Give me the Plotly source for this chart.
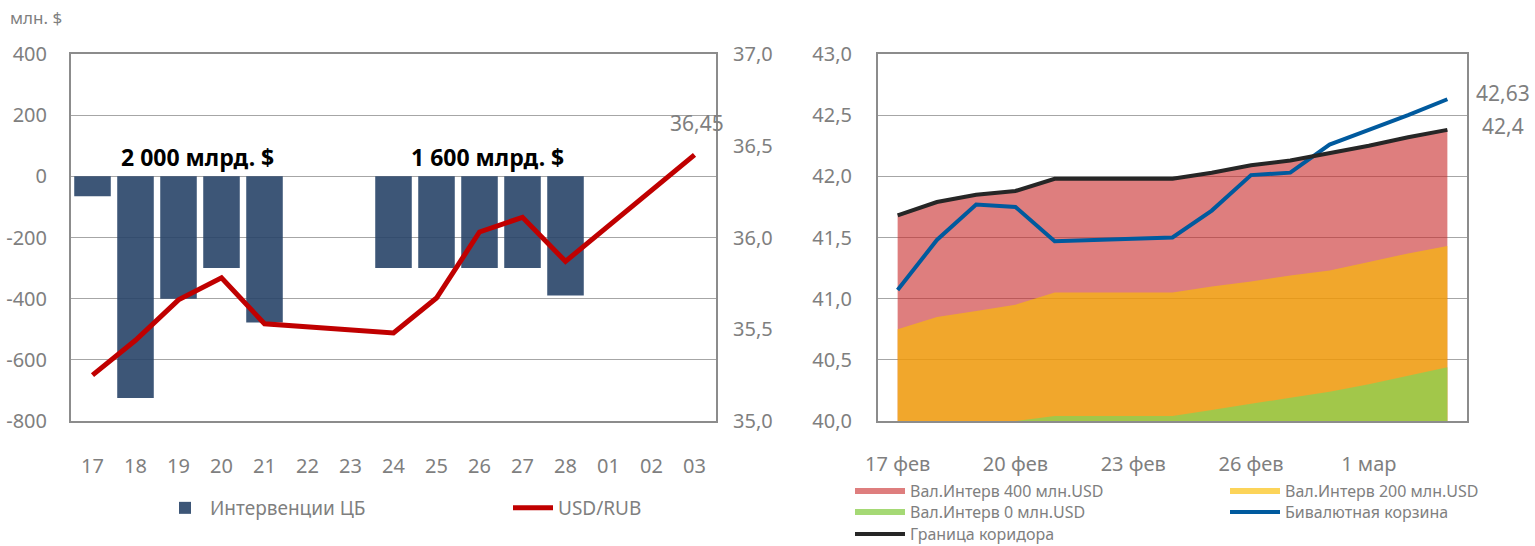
import plotly.graph_objects as go

# left chart: CBR interventions and USD/RUB
days = ['17', '18', '19', '20', '21', '22', '23', '24', '25', '26', '27', '28', '01', '02', '03']
interventions = [-65, -725, -400, -300, -478, None, None, -300, -300, -300, -300, -390, None, None, None]
usd_rub = [35.25, 35.44, 35.66, 35.78, 35.53, None, None, 35.48, 35.67, 36.03, 36.11, 35.87, None, None, 36.45]
left_ticks = [-800, -600, -400, -200, 0, 200, 400]
left_ticktext = ['-800', '-600', '-400', '-200', '0', '200', '400']

# right chart: bi-currency basket vs corridor
dates = ['2014-02-17', '2014-02-18', '2014-02-19', '2014-02-20', '2014-02-21', '2014-02-22',
         '2014-02-23', '2014-02-24', '2014-02-25', '2014-02-26', '2014-02-27', '2014-02-28',
         '2014-03-01', '2014-03-02', '2014-03-03']
level_400 = [41.68, 41.79, 41.85, 41.88, 41.98, 41.98, 41.98, 41.98, 42.03, 42.09, 42.13, 42.19, 42.25, 42.32, 42.38]
level_200 = [40.75, 40.85, 40.90, 40.95, 41.05, 41.05, 41.05, 41.05, 41.10, 41.14, 41.19, 41.23, 41.30, 41.37, 41.43]
level_0 = [40.0, 40.0, 40.0, 40.0, 40.04, 40.04, 40.04, 40.04, 40.09, 40.14, 40.19, 40.24, 40.30, 40.37, 40.44]
basket = [41.07, 41.48, 41.77, 41.75, 41.47, 41.48, 41.49, 41.50, 41.72, 42.01, 42.03, 42.26, 42.38, 42.50, 42.63]
corridor = [41.68, 41.79, 41.85, 41.88, 41.98, 41.98, 41.98, 41.98, 42.03, 42.09, 42.13, 42.19, 42.25, 42.32, 42.38]
date_ticks = ['2014-02-17', '2014-02-20', '2014-02-23', '2014-02-26', '2014-03-01']
date_ticktext = ['17 фев', '20 фев', '23 фев', '26 фев', '1 мар']

FONT = 'Noto Sans'
GREY = '#7F7F7F'
W, H = 1535, 546

def px(x):
    return x / W

def py(y):
    return 1 - y / H

fig = go.Figure()

fig.add_trace(go.Bar(x=days, y=interventions, name='Интервенции ЦБ',
                     marker=dict(color='rgba(40,68,104,0.9)', line=dict(width=0)),
                     xaxis='x', yaxis='y', legend='legend'))
fig.add_trace(go.Scatter(x=days, y=usd_rub, name='USD/RUB', mode='lines', connectgaps=True,
                         line=dict(color='#C00000', width=5),
                         xaxis='x', yaxis='y2', legend='legend'))

fig.add_trace(go.Scatter(x=dates, y=level_400, name='Вал.Интерв 400 млн.USD', mode='none',
                         fill='tozeroy', fillcolor='rgba(200,40,40,0.6)',
                         xaxis='x2', yaxis='y3', legend='legend2'))
fig.add_trace(go.Scatter(x=dates, y=level_200, name='Вал.Интерв 200 млн.USD', mode='none',
                         fill='tozeroy', fillcolor='rgba(251,189,0,0.65)',
                         xaxis='x2', yaxis='y3', legend='legend2'))
fig.add_trace(go.Scatter(x=dates, y=level_0, name='Вал.Интерв 0 млн.USD', mode='none',
                         fill='tozeroy', fillcolor='rgba(143,207,82,0.8)',
                         xaxis='x2', yaxis='y3', legend='legend3'))
fig.add_trace(go.Scatter(x=dates, y=basket, name='Бивалютная корзина', mode='lines',
                         line=dict(color='#005A9E', width=4),
                         xaxis='x2', yaxis='y3', legend='legend3'))
fig.add_trace(go.Scatter(x=dates, y=corridor, name='Граница коридора', mode='lines',
                         line=dict(color='#262626', width=4),
                         xaxis='x2', yaxis='y3', legend='legend4'))

ydom = [py(421), py(54)]
axis_common = dict(showline=True, mirror=True, linecolor='#8C8C8C', linewidth=2, automargin=False,
                   tickfont=dict(family=FONT, size=20, color=GREY), ticks='')
right_legend = dict(orientation='h', x=px(850), xanchor='left', yanchor='top',
                    entrywidth=310, itemwidth=50, font=dict(family=FONT, size=16, color=GREY),
                    bgcolor='rgba(0,0,0,0)')

fig.update_layout(
    width=W, height=H,
    margin=dict(l=0, r=0, t=0, b=0, autoexpand=False),
    plot_bgcolor='white', paper_bgcolor='white',
    separators=', ',
    font=dict(family=FONT, color=GREY),
    bargap=0.15,
    xaxis=dict(domain=[px(71), px(716)], anchor='y', type='category', showgrid=False,
               ticklabelstandoff=26, **axis_common),
    yaxis=dict(domain=ydom, anchor='x', range=[-800, 400], tickvals=left_ticks,
               ticktext=left_ticktext, showgrid=True, gridcolor='#A6A6A6', gridwidth=1,
               zeroline=False, ticklabelstandoff=18, **axis_common),
    yaxis2=dict(overlaying='y', anchor='x', side='right', range=[35, 37],
                tickvals=[35, 35.5, 36, 36.5, 37], tickformat='.1f', showgrid=False,
                zeroline=False, showline=False, ticks='', ticklabelstandoff=16, automargin=False,
                tickfont=dict(family=FONT, size=20, color=GREY)),
    xaxis2=dict(domain=[px(878), px(1467)], anchor='y3', type='date',
                range=['2014-02-16 12:00', '2014-03-03 12:00'],
                tickvals=date_ticks, ticktext=date_ticktext, showgrid=False,
                ticklabelstandoff=24, **axis_common),
    yaxis3=dict(domain=ydom, anchor='x2', range=[40, 43], dtick=0.5, tickformat='.1f',
                showgrid=True, gridcolor='#A6A6A6', gridwidth=1, zeroline=False,
                ticklabelstandoff=20, **axis_common),
    legend=dict(orientation='h', x=px(160), y=py(489), xanchor='left', yanchor='top',
                entrywidth=293, itemwidth=40, font=dict(family=FONT, size=19, color=GREY),
                bgcolor='rgba(0,0,0,0)'),
    legend2=dict(y=py(474), **right_legend),
    legend3=dict(y=py(495), **right_legend),
    legend4=dict(y=py(517), **right_legend),
    showlegend=True,
)

annotations = [
    dict(text='млн. $', x=px(8), y=py(17), xanchor='left', yanchor='middle',
         font=dict(size=17, color=GREY)),
    dict(text='<b>2 000 млрд. $</b>', x=px(197), y=py(157), xanchor='center', yanchor='middle',
         font=dict(size=23, color='black')),
    dict(text='<b>1 600 млрд. $</b>', x=px(487), y=py(157), xanchor='center', yanchor='middle',
         font=dict(size=23, color='black')),
    dict(text='36,45', x=px(697), y=py(123), xanchor='center', yanchor='middle',
         font=dict(size=21, color=GREY)),
    dict(text='42,63', x=px(1503), y=py(93), xanchor='center', yanchor='middle',
         font=dict(size=21, color=GREY)),
    dict(text='42,4', x=px(1503), y=py(126), xanchor='center', yanchor='middle',
         font=dict(size=21, color=GREY)),
]
for a in annotations:
    fig.add_annotation(xref='paper', yref='paper', showarrow=False, **a)

# the page body has a default 8px margin; drop it so the figure sits at the window corner
fig.write_html('out.html', config={'displayModeBar': False},
               post_script="document.body.style.margin='0';")
